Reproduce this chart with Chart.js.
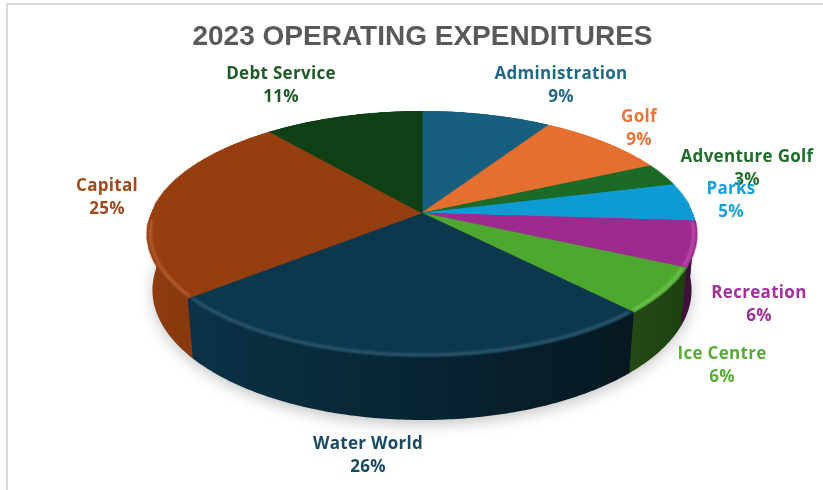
<!DOCTYPE html>
<html>
<head>
<meta charset="utf-8">
<title>2023 Operating Expenditures</title>
<script src="https://cdn.jsdelivr.net/npm/chart.js@4.4.0/dist/chart.umd.min.js"></script>
<style>
  html, body { margin: 0; padding: 0; background: #ffffff; }
  #wrap { position: relative; width: 823px; height: 490px; overflow: hidden; }
  #frame { position: absolute; left: 6px; top: 3px; right: -10px; bottom: -10px;
           border-top: 2px solid #dadada; border-left: 2px solid #dadada; }
  #c { position: absolute; left: 0; top: 0; }
</style>
</head>
<body>
<div id="wrap">
  <div id="frame"></div>
  <canvas id="c" width="823" height="490"></canvas>
</div>
<script>
// Expenditure categories and their share of the 2023 operating budget (%)
const categories = ['Administration', 'Golf', 'Adventure Golf', 'Parks', 'Recreation',
                    'Ice Centre', 'Water World', 'Capital', 'Debt Service'];
const sharePct = [9, 9, 3, 5, 6, 6, 26, 25, 11];

// Slice fills and label text colours
const sliceColors = ['#165f7f', '#e46f2f', '#1b6a26', '#0e9bd5', '#9d2a8e',
                     '#4ea72e', '#0c374d', '#953e10', '#0f3f14'];
const labelColors = ['#1f6a8a', '#e8763a', '#1f6e2a', '#16a0dc', '#a0309a',
                     '#56ad35', '#1b4a60', '#a04a1b', '#1e5a25'];

// Label block centres (name line + percent line)
const labelCenters = [[561, 86], [639, 129], [747, 169], [731, 201], [759, 305],
                      [722, 366], [368, 456], [107, 198], [281, 86]];

// Camera used to tilt the pie into a 3-D disc (units: pie radius = 1)
const view = { cx: 422, cy: 213, focal: 1425, dist: 5.26, pitch: Math.asin(0.4406), thickness: 0.2316 };

function project(X, Y, Z) {
  const s = Math.sin(view.pitch), c = Math.cos(view.pitch);
  const d = view.dist - Y * s - Z * c;
  return [view.cx + view.focal * X / d, view.cy - view.focal * (Y * c - Z * s) / d];
}
// depth coordinate of the top face seen at screen row y
function topDepthAt(y) {
  const s = Math.sin(view.pitch), c = Math.cos(view.pitch);
  const dy = y - view.cy;
  return dy * view.dist / (view.focal * s + dy * c);
}
function rgbOf(hex) {
  const n = parseInt(hex.slice(1), 16);
  return [(n >> 16) & 255, (n >> 8) & 255, n & 255];
}
function shade(hex, f) {
  const [r, g, b] = rgbOf(hex);
  return 'rgb(' + Math.round(r * f) + ',' + Math.round(g * f) + ',' + Math.round(b * f) + ')';
}
function tint(hex, t) {
  const [r, g, b] = rgbOf(hex);
  const m = v => Math.round(Math.min(255, v * 1.1 + (255 - v) * t));
  return 'rgb(' + m(r) + ',' + m(g) + ',' + m(b) + ')';
}
const wallShade = X => Math.max(0.38, Math.min(0.95, 0.65 - 0.3 * X));

function rimPath(ctx, a1, a2, Y, r, moveFirst) {
  const n = Math.max(2, Math.ceil(Math.abs(a2 - a1) * 80));
  for (let k = 0; k <= n; k++) {
    const a = a1 + (a2 - a1) * k / n;
    const p = project(r * Math.cos(a), Y, r * Math.sin(a));
    if (k === 0 && moveFirst) ctx.moveTo(p[0], p[1]); else ctx.lineTo(p[0], p[1]);
  }
}

// Re-projects the flat pie drawn by Chart.js onto a tilted disc with side walls
const pie3d = {
  id: 'pie3d',
  afterDatasetsDraw(chart) {
    const ctx = chart.ctx;
    const arcs = chart.getDatasetMeta(0).data;
    const pcx = arcs[0].x, pcy = arcs[0].y, R = arcs[0].outerRadius;
    const H = view.thickness;

    const flat = document.createElement('canvas');
    flat.width = chart.canvas.width;
    flat.height = chart.canvas.height;
    flat.getContext('2d').drawImage(chart.canvas, 0, 0);

    ctx.save();
    ctx.clearRect(pcx - R - 4, pcy - R - 4, 2 * R + 8, 2 * R + 8);

    // soft drop shadow under the disc
    ctx.save();
    ctx.beginPath();
    rimPath(ctx, 0, Math.PI * 2, -H, 0.995, true);
    ctx.closePath();
    ctx.shadowColor = 'rgba(0,0,0,0.26)';
    ctx.shadowBlur = 16;
    ctx.shadowOffsetY = 4;
    ctx.fillStyle = '#1a1a1a';
    ctx.fill();
    ctx.restore();

    // side walls of the front half
    const left = project(-1, 0, 0)[0], right = project(1, 0, 0)[0];
    arcs.forEach((arc, i) => {
      const a1 = Math.max(arc.startAngle, 0);
      const a2 = Math.min(arc.endAngle, Math.PI);
      if (a2 <= a1) return;
      const e2 = Math.min(a2 + 0.004, Math.PI);
      const grad = ctx.createLinearGradient(left, 0, right, 0);
      grad.addColorStop(0, shade(sliceColors[i], wallShade(-1)));
      grad.addColorStop(0.5, shade(sliceColors[i], wallShade(0)));
      grad.addColorStop(1, shade(sliceColors[i], wallShade(1)));
      ctx.beginPath();
      rimPath(ctx, a1, e2, 0, 1, true);
      rimPath(ctx, e2, a1, -H, 1, false);
      ctx.closePath();
      ctx.fillStyle = grad;
      ctx.fill();
    });

    // top face: warp each screen row from the flat pie
    ctx.imageSmoothingEnabled = true;
    ctx.imageSmoothingQuality = 'high';
    const yTop = Math.floor(project(0, 0, -1)[1]);
    const yBot = Math.ceil(project(0, 0, 1)[1]);
    const c = Math.cos(view.pitch);
    for (let y = yTop; y < yBot; y++) {
      const z0 = Math.max(-1, topDepthAt(y));
      const z1 = Math.min(1, topDepthAt(y + 1));
      if (z1 <= z0) continue;
      const zm = topDepthAt(y + 0.5);
      const k = view.focal / (view.dist - zm * c);
      ctx.drawImage(flat, pcx - R, pcy + z0 * R, 2 * R, (z1 - z0) * R,
                    view.cx - k, y, 2 * k, 1);
    }

    // rounded edge: a soft lighter band along the front rim of each slice
    ctx.save();
    ctx.filter = 'blur(1.2px)';
    ctx.lineWidth = 3;
    ctx.lineCap = 'butt';
    arcs.forEach((arc, i) => {
      const a1 = Math.max(arc.startAngle, 0.05);
      const a2 = Math.min(arc.endAngle, Math.PI - 0.05);
      if (a2 <= a1) return;
      ctx.beginPath();
      rimPath(ctx, a1 + 0.01, a2 - 0.01, 0, 0.988, true);
      ctx.strokeStyle = tint(sliceColors[i], 0.13);
      ctx.stroke();
    });
    ctx.restore();
    ctx.restore();
  },
  afterDraw(chart) {
    const ctx = chart.ctx;
    const total = sharePct.reduce((s, v) => s + v, 0);
    ctx.save();
    ctx.font = 'bold 17px "Open Sans"';
    ctx.textAlign = 'center';
    ctx.textBaseline = 'middle';
    if ('letterSpacing' in ctx) ctx.letterSpacing = '0.3px';
    categories.forEach((name, i) => {
      const [x, y] = labelCenters[i];
      ctx.fillStyle = labelColors[i];
      ctx.fillText(name, x, y - 11.5);
      ctx.fillText(Math.round(sharePct[i] / total * 100) + '%', x, y + 11.5);
    });
    ctx.restore();
  }
};

new Chart(document.getElementById('c'), {
  type: 'pie',
  data: {
    labels: categories,
    datasets: [{
      data: sharePct,
      backgroundColor: sliceColors,
      borderColor: sliceColors,
      borderWidth: 1
    }]
  },
  options: {
    responsive: false,
    animation: false,
    events: [],
    layout: { padding: { left: 22, right: 0, top: 0, bottom: 0 } },
    plugins: {
      legend: { display: false },
      tooltip: { enabled: false },
      title: {
        display: true,
        text: '2023 OPERATING EXPENDITURES',
        color: '#595959',
        font: { family: '"Liberation Sans", Arial, sans-serif', size: 28, weight: 'bold', lineHeight: 1.2 },
        padding: { top: 20, bottom: 10 }
      }
    }
  },
  plugins: [pie3d]
});
</script>
</body>
</html>
